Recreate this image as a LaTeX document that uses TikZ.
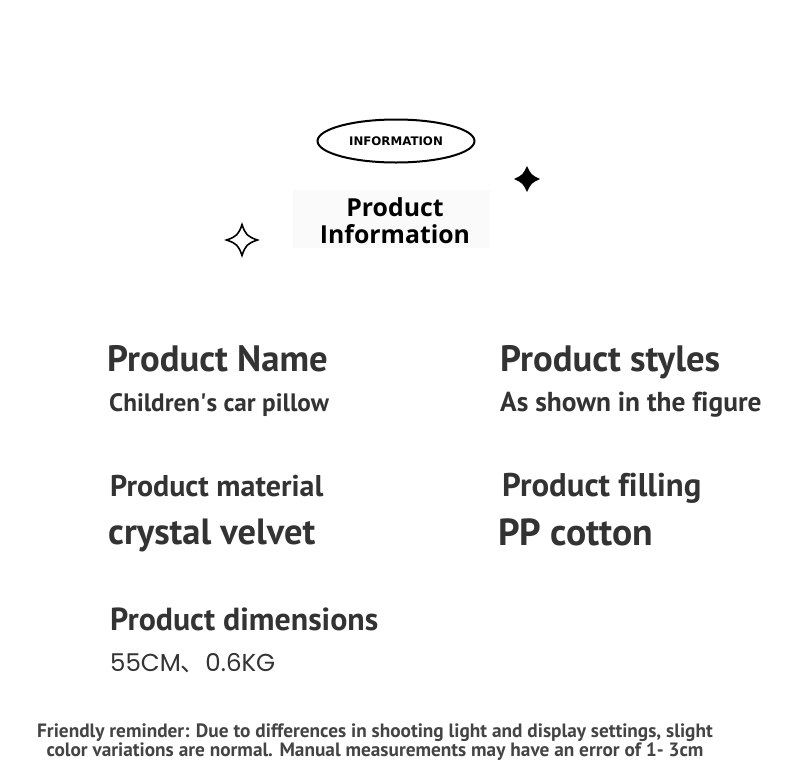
\documentclass[tikz,border=0pt]{standalone}
\usepackage{fontspec}
\setmainfont{PT Sans}[Ligatures=NoCommon]
\newfontfamily\headfont{Open Sans}
\newfontfamily\badgefont{DejaVu Sans}
\newfontfamily\numfont{Poppins}
\newfontfamily\cjkfont{Noto Sans CJK SC}
\usetikzlibrary{shapes.geometric}
\definecolor{ink}{HTML}{333333}
\definecolor{note}{HTML}{444444}
\definecolor{panel}{HTML}{FAFAFA}
\tikzset{
	label/.style={anchor=base west, inner sep=0pt, text=ink, font=\bfseries\fontsize{#1}{#1}\selectfont},
	label/.default=36.7,
}
\def\sparkle[#1](#2)(#3:#4){\draw[#1] (#2) ++(0,-#3) .. controls +(#4*#3,0.65*#3) and +(-0.65*#3,-#4*#3) .. ++(#3,#3) .. controls +(-0.65*#3,#4*#3) and +(#4*#3,-0.65*#3) .. ++(-#3,#3) .. controls +(-#4*#3,-0.65*#3) and +(0.65*#3,#4*#3) .. ++(-#3,-#3) .. controls +(0.65*#3,-#4*#3) and +(-#4*#3,0.65*#3) .. cycle;}

\begin{document}
\begin{tikzpicture}[x=1pt,y=-1pt]
	%%%%% START %%%%%
	\useasboundingbox[fill=white] (0,0) rectangle (790,782);
	
	\node[draw, line width=2pt, ellipse, minimum width=157, minimum height=43, inner sep=0pt, font=\badgefont\bfseries\fontsize{11.8}{12}\selectfont] (badge) at (396,141) {INFORMATION};
	
	\fill[panel] (293,190) rectangle (490,248);
	\node[align=center, anchor=base, inner sep=0pt, font=\headfont\bfseries\fontsize{24.8}{27}\selectfont] (title) at (395,243) {Product\\Information};
	
	\sparkle[fill=black](527,179)(12.5:0.3);
	\sparkle[line width=1.6pt](242,240)(15.5:0.22);
	
	\node[label] (name) at (107,371.5) {Product Name};
	\node[label=25.2] (namev) at (109,411) {Children\textquotesingle s car pillow};
	\node[label] (style) at (500,371.5) {Product styles};
	\node[label=27.4] (stylev) at (500,411) {As shown in the figure};
	
	\node[label=30] (material) at (110,496) {Product material};
	\node[label=36.5] (materialv) at (108,544) {crystal velvet};
	\node[label=32.8] (filling) at (502,496) {Product filling};
	\node[label=37.7] (fillingv) at (498,545) {PP cotton};
	
	\node[label=31.9] (size) at (110,630) {Product dimensions};
	\node[anchor=base west, inner sep=0pt, text=ink, font=\numfont\fontsize{24.5}{25}\selectfont] (sizev) at (110,671.7) {55CM{\cjkfont 、}0.6KG};
	
	\node[align=center, anchor=base, inner sep=0pt, text=note, font=\bfseries\fontsize{19.3}{15.2}\selectfont] (tip) at (375,756.7) {Friendly reminder: Due to differences in shooting light and display settings, slight\\color variations are normal. Manual measurements may have an error of 1- 3cm};
	
	%%%%% END %%%%%
\end{tikzpicture}
\end{document}
